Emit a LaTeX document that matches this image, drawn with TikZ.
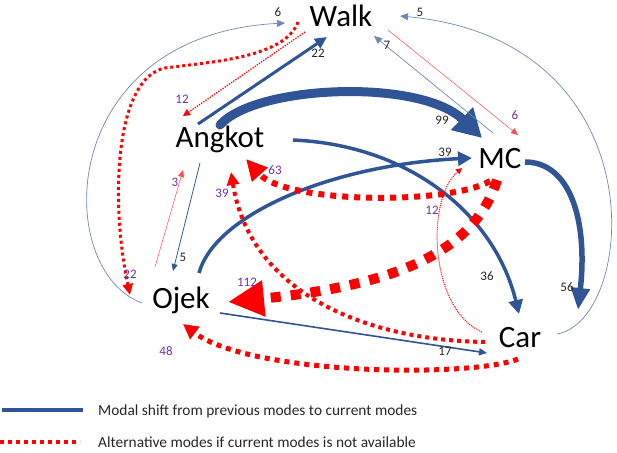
\documentclass[tikz,border=0pt]{standalone}
\usepackage{fontspec}
\setmainfont{Carlito}
\usetikzlibrary{arrows.meta,calc}
\definecolor{mblue}{HTML}{2F5597}
\definecolor{mpurple}{HTML}{7030A0}
\tikzset{
  mode/.style={font=\fontsize{31}{31}\selectfont, inner sep=0pt, anchor=base},
  bl/.style={draw=mblue, line width=#1},
  rd/.style={draw=red, line width=#1, dash pattern=on #1 off #1},
  rdthin/.style={draw=red!70, line width=0.5pt},
  numb/.style={font=\fontsize{13}{13}\selectfont, inner sep=0pt, text=black!85},
  nump/.style={font=\fontsize{13}{13}\selectfont, inner sep=0pt, text=mpurple},
  legtxt/.style={font=\fontsize{15.4}{15.4}\selectfont, inner sep=0pt, anchor=base west, text=black!85},
}
\begin{document}
\begin{tikzpicture}[x=1pt,y=-1pt]
\useasboundingbox (0,0) rectangle (617,452);
% nodes
\node[mode] (W) at (341,27) {Walk};
\node[mode] (A) at (220,147) {Angkot};
\node[mode] (M) at (500,168) {MC};
\node[mode] (O) at (181,308) {Ojek};
\node[mode] (C) at (520,347) {Car};

% ---- blue: modal shift ----
\draw[bl=3pt, -{Triangle[length=12pt,width=11pt]}] ($(A.base)+(-22,-23)$) -- ($(W.base)+(-14,10)$);
\draw[bl=9pt, line cap=round, -{Triangle[length=28pt,width=30pt]}] ($(A.base)+(0,-22)$) .. controls +(35,-40) and +(-62,-60) .. ($(M.base)+(-18,-30)$);
\draw[bl=3.5pt, -{Triangle[length=14pt,width=14pt]}] ($(A.base)+(73,-7)$) .. controls +(117,5) and +(-24,-99) .. ($(C.base)+(-1,-33)$);
\draw[bl=3.5pt, -{Triangle[length=14pt,width=14pt]}] ($(O.base)+(18,-35)$) .. controls +(16,-58) and +(-142,7) .. ($(M.base)+(-28,-10)$);
\draw[bl=5.5pt, -{Triangle[length=22pt,width=18pt]}] ($(M.base)+(25,-6)$) .. controls +(45,0) and +(10,-90) .. ($(C.base)+(58,-37)$);
\draw[bl=1.6pt, -{Triangle[length=8pt,width=7pt]}] ($(O.base)+(39,5)$) -- ($(C.base)+(-33,6)$);
\draw[bl=0.8pt, -{Triangle[length=7pt,width=6pt]}] ($(A.base)+(-20,16)$) -- ($(O.base)+(-8,-37)$);
\draw[bl=0.7pt, draw=mblue!70, -{Triangle[length=8pt,width=7pt]}] ($(M.base)+(-7,-35)$) -- ($(W.base)+(33,9)$);
\draw[bl=0.7pt, draw=mblue!70, -{Triangle[length=8pt,width=7pt]}] ($(C.base)+(37,-13)$) .. controls +(80,-14) and +(260,24) .. ($(W.base)+(59,-11)$);
\draw[bl=0.7pt, draw=mblue!70, -{Triangle[length=8pt,width=7pt]}] ($(O.base)+(-39,-5)$) .. controls +(-90,-33) and +(-230,12) .. ($(W.base)+(-56,-4)$);

% ---- red: alternatives ----
\draw[rd=1.3pt, -{Triangle[length=7pt,width=7pt]}] ($(W.base)+(-36,5)$) -- ($(A.base)+(-37,-31)$);
\coordinate (wo) at (165,68);
\draw[rd=3pt, -{Triangle[length=11pt,width=10pt]}] ($(W.base)+(-43,-5)$) .. controls +(-13,36) and +(45,-6) .. (wo) .. controls +(-50,10) and +(-20,-95) .. ($(O.base)+(-51,-13)$);
\draw[rdthin, -{Triangle[length=7pt,width=6pt]}] ($(O.base)+(-26,-41)$) -- ($(A.base)+(-37,23)$);
\draw[rdthin, -{Triangle[length=7pt,width=6pt]}] ($(W.base)+(47,3)$) -- ($(M.base)+(18,-33)$);
\draw[rd=6pt, -{Triangle[length=21pt,width=20pt]}] ($(M.base)+(-10,13)$) .. controls +(-40,24) and +(40,45) .. ($(A.base)+(26,12)$);
\draw[rd=10pt, -{Triangle[length=36pt,width=34pt]}] ($(M.base)+(-3,12)$) .. controls +(-22,70) and +(172,-17) .. ($(O.base)+(47,-6)$);
\draw[rd=4pt, -{Triangle[length=13pt,width=12pt]}] ($(C.base)+(-35,-5)$) .. controls +(-125,-2) and +(19,118) .. ($(A.base)+(11,25)$);
\draw[rd=1pt, -{Triangle[length=6pt,width=6pt]}] ($(C.base)+(-38,-15)$) .. controls +(-52,-22) and +(-37,32) .. ($(M.base)+(-38,0)$);
\draw[rd=5pt, -{Triangle[length=15pt,width=15pt]}] ($(C.base)+(-2,12)$) .. controls +(-48,19) and +(67,51) .. ($(O.base)+(2,16)$);

% ---- labels ----
\node[numb] (n22) at (318,53) {22};
\node[numb] (n99) at (442,120) {99};
\node[numb] (n36) at (487,276) {36};
\node[numb] (n39) at (445,152) {39};
\node[numb] (n56) at (567,287) {56};
\node[numb] (n17) at (445,351) {17};
\node[numb] (n5a) at (183,257) {5};
\node[numb] (n7) at (387,45) {7};
\node[numb] (n5b) at (420,12) {5};
\node[numb] (n6a) at (278,12) {6};
\node[nump] (p12a) at (182,99) {12};
\node[nump] (p22) at (130,274) {22};
\node[nump] (p3) at (175,182) {3};
\node[nump] (p6) at (515,115) {6};
\node[nump] (p63) at (275,170) {63};
\node[nump] (p112) at (247,282) {112};
\node[nump] (p39) at (222,193) {39};
\node[nump] (p12b) at (432,210) {12};
\node[nump] (p48) at (166,351) {48};

% ---- legend ----
\coordinate (lb1) at (2,410);
\coordinate (lb2) at (83,410);
\draw[bl=4pt] (lb1) -- (lb2);
\coordinate (lr1) at (0,442);
\coordinate (lr2) at (80,442);
\draw[rd=4pt] (lr1) -- (lr2);
\node[legtxt] (t1) at (98,415) {Modal shift from previous modes to current modes};
\node[legtxt] (t2) at (98,447) {Alternative modes if current modes is not available};
\end{tikzpicture}
\end{document}
